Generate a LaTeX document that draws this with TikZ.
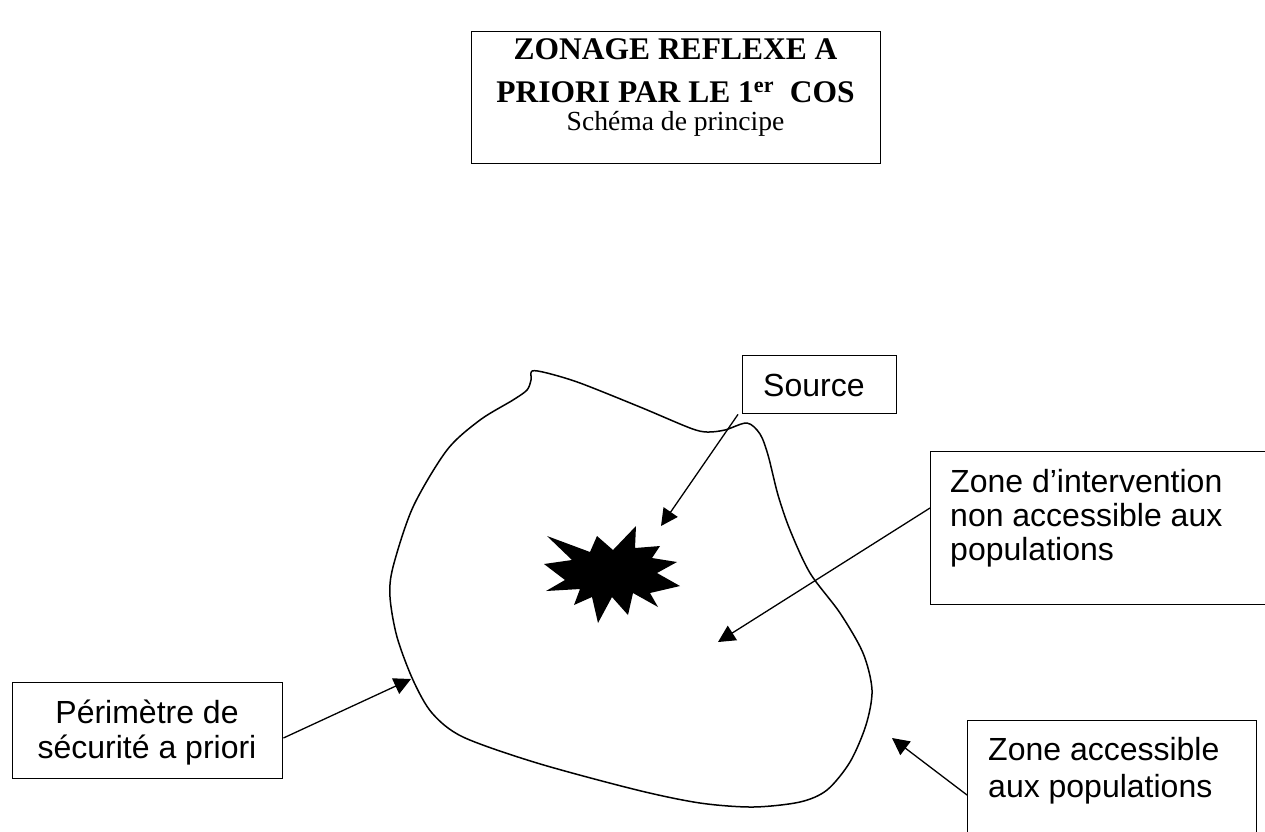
\documentclass[tikz,border=0pt]{standalone}
\usepackage{fontspec}
\setmainfont{Liberation Serif}
\newfontfamily\arialf{Liberation Sans}
\usetikzlibrary{arrows.meta,calc}
\begin{document}
\begin{tikzpicture}[x=1pt,y=-1pt,
  boxn/.style={draw,line width=1.4pt,inner sep=0pt,anchor=north west},
  lbl/.style={font=\arialf\fontsize{32}{35}\selectfont,inner sep=0pt},
  arr/.style={line width=1.3pt,-{Triangle[length=17pt,width=17pt]}},
  curve/.style={line width=1.5pt,line join=round}]
\useasboundingbox (0,0) rectangle (1265,831);
\fill[white] (0,0) rectangle (1265,831);

% title
\node[boxn,minimum width=409pt,minimum height=132pt] (title) at (471,31) {};
\node[anchor=base,inner sep=0pt,font=\bfseries\fontsize{31.5}{42}\selectfont] (t1) at (675.5,59) {ZONAGE REFLEXE A};
\node[anchor=base,inner sep=0pt,font=\bfseries\fontsize{31.5}{42}\selectfont] (t2) at (675.5,102) {PRIORI PAR LE 1\textsuperscript{er}\ \ COS};
\node[anchor=base,inner sep=0pt,font=\fontsize{27.6}{32}\selectfont] (t3) at (675.5,130) {Schéma de principe};

% boxes
\node[boxn,minimum width=154pt,minimum height=58pt] (src) at (742,355) {};
\node[lbl,anchor=base west] (srct) at (763,396) {Source};

\node[boxn,minimum width=345pt,minimum height=153pt] (zi) at (930,451) {};
\node[lbl,anchor=base west,align=left,font=\arialf\fontsize{32}{34}\selectfont] (zit) at (950,560) {Zone d’intervention\\non accessible aux\\populations};

\node[boxn,minimum width=289pt,minimum height=130pt] (za) at (967,720) {};
\node[lbl,anchor=base west,align=left,font=\arialf\fontsize{32}{37}\selectfont] (zat) at (988,797) {Zone accessible\\aux populations};

\node[boxn,minimum width=270pt,minimum height=96pt] (pb) at (12,682) {};
\node[lbl,anchor=base,align=center] (pbt) at (147,758) {Périmètre de\\sécurité a priori};

% perimeter curve
\draw[curve] plot[smooth cycle,tension=0.5] coordinates {
 (532,371) (547,373) (580,383) (640,407) (690,428) (707,432) (725,430) (747,423)
 (760,434) (768,455) (778,495) (790,530) (810,573) (840,613) (863,653) (872,690)
 (866,725) (850,762) (827,790) (800,802) (753,807) (700,803) (637,790) (537,763)
 (463,737) (432,713) (413,680) (397,637) (390,597) (393,567) (413,507) (447,450)
 (480,420) (513,400) (527,390) (531,380)};

% starburst
\fill (544,564) -- (572,560) -- (547,536) -- (590,552) -- (597,536) -- (613,550)
 -- (636,526) -- (635,548) -- (660,546) -- (652,558) -- (677,562) -- (657,573)
 -- (680,586) -- (650,593) -- (658,607) -- (633,593) -- (628,615) -- (612,597)
 -- (598,623) -- (592,597) -- (574,605) -- (580,589) -- (546,591) -- (565,580) -- cycle;

% arrow tips
\coordinate (srcTip) at (661,526);
\coordinate (ziTip) at (718,642);
\coordinate (pbTip) at (411,679);
\coordinate (zaTip) at (892,738);

\draw[arr] ($(src.south west)+(-4,0)$) -- (srcTip);
\draw[arr] ($(zi.north west)+(0,57)$) -- (ziTip);
\draw[arr] ($(pb.north east)+(0,56)$) -- (pbTip);
\draw[arr] ($(za.north west)+(0,75)$) -- (zaTip);
\end{tikzpicture}
\end{document}
